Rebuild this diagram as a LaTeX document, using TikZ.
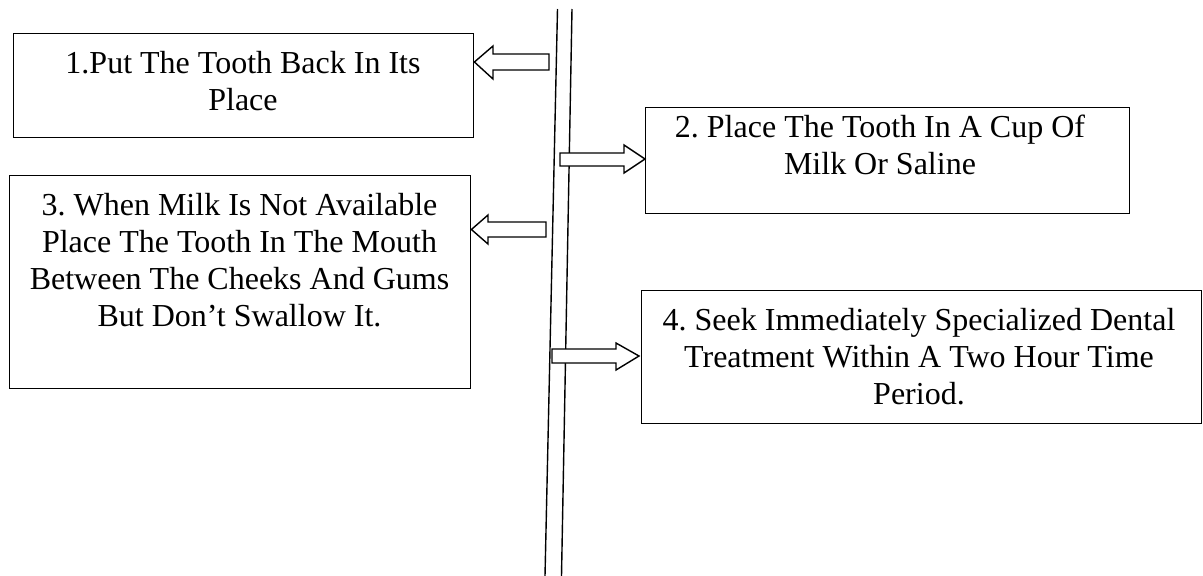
\documentclass[tikz,border=0pt]{standalone}
\usepackage{fontspec}
\setmainfont{Liberation Serif}
\frenchspacing
\begin{document}
\begin{tikzpicture}[x=1pt,y=-1pt,
  box/.style={draw=black,line width=1.4pt,rectangle,inner sep=0pt,anchor=north west},
  txt/.style={anchor=north,align=center,inner sep=0pt,font=\fontsize{32}{37}\selectfont\frenchspacing},
  rail/.style={draw=black,line width=1.4pt},
  blockarrow/.style={draw=black,fill=white,line width=1.4pt,line join=miter}]
\useasboundingbox (0,0) rectangle (1203,576);
% boxes
\node[box,minimum width=460pt,minimum height=104pt] (b1) at (13,33) {};
\node[box,minimum width=484pt,minimum height=106pt] (b2) at (645,107) {};
\node[box,minimum width=461pt,minimum height=213pt] (b3) at (9,175) {};
\node[box,minimum width=560pt,minimum height=133pt] (b4) at (641,290) {};
% texts
\node[txt] (t1) at (243,51) {1.Put The Tooth Back In Its\\Place};
\node[txt] (t2) at (880,115) {2. Place The Tooth In A Cup Of\\Milk Or Saline};
\node[txt] (t3) at (239.5,193) {3. When Milk Is Not Available\\Place The Tooth In The Mouth\\Between The Cheeks And Gums\\But Don’t Swallow It.};
\node[txt] (t4) at (919,308) {4. Seek Immediately Specialized Dental\\Treatment Within A Two Hour Time\\Period.};
% double rail
\coordinate (lt) at (557.5,9);
\coordinate (lb) at (545,576);
\coordinate (rt) at (572,9);
\coordinate (rb) at (561.5,576);
\draw[rail] (lt) -- (lb);
\draw[rail] (rt) -- (rb);
% block arrows
\draw[blockarrow] (549,54) -- (493,54) -- (493,46) -- (b1.east |- 0,62) -- (493,79) -- (493,70) -- (549,70) -- cycle;
\draw[blockarrow] (560,153) -- (624,153) -- (624,145) -- (b2.west |- 0,159) -- (624,173) -- (624,166) -- (560,166) -- cycle;
\draw[blockarrow] (546,222) -- (488,222) -- (488,215) -- (b3.east |- 0,229.5) -- (488,244) -- (488,237) -- (546,237) -- cycle;
\draw[blockarrow] (552,349) -- (616,349) -- (616,343) -- (639,356) -- (616,370) -- (616,363) -- (552,363) -- cycle;
\end{tikzpicture}
\end{document}
